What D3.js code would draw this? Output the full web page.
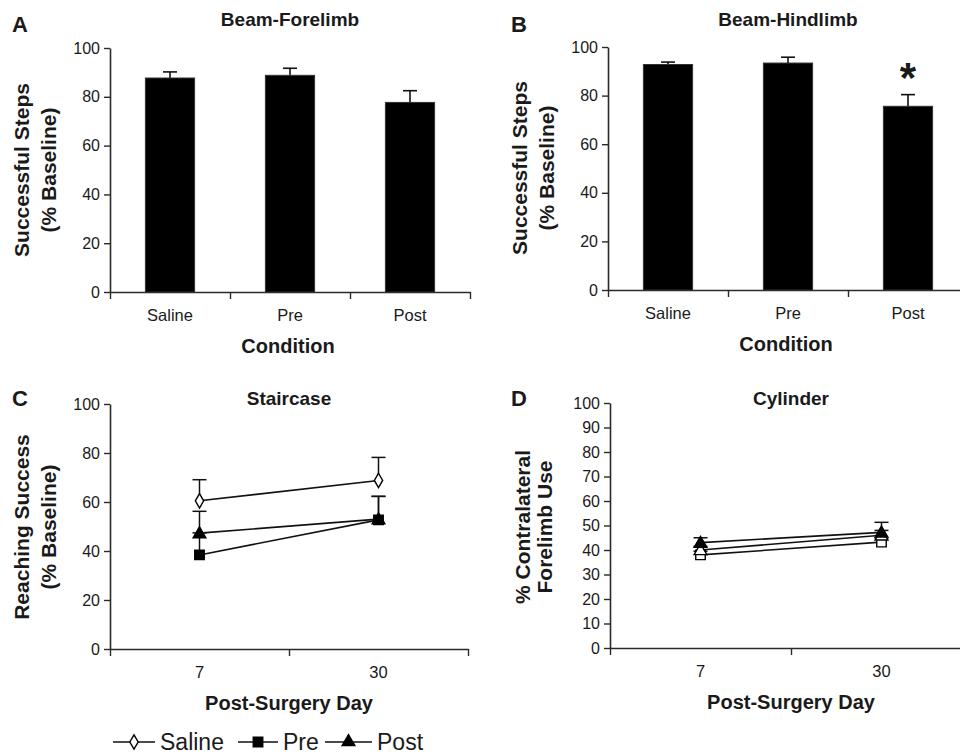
<!DOCTYPE html>
<html>
<head>
<meta charset="utf-8">
<script src="https://cdn.jsdelivr.net/npm/d3@7"></script>
<style>
  body { margin: 0; background: #fff; }
  svg { font-family: Arial, "Liberation Sans", sans-serif; }
  text { fill: #1a1a1a; }
</style>
</head>
<body>
<svg id="chart" width="960" height="756"></svg>
<script>
// ---- data ----
const conditions = ["Saline", "Pre", "Post"];
const forelimbMean = [87.7, 88.8, 77.7];
const forelimbErr = [2.5, 2.9, 4.8];
const hindlimbMean = [92.8, 93.4, 75.6];
const hindlimbErr = [1.0, 2.4, 4.8];

const days = ["7", "30"];
const groups = ["Saline", "Pre", "Post"];
const stairSaline = [60.5, 68.8];
const stairSalineErr = [8.6, 9.4];
const stairPre = [38.4, 52.7];
const stairPreErr = [9.0, 9.6];
const stairPost = [47.3, 53.0];
const stairPostErr = [8.9, 9.3];

const cylSquare = [38.0, 43.2];
const cylSquareErr = [1.5, 1.5];
const cylOpenTri = [40.0, 46.0];
const cylOpenTriErr = [1.5, 2.0];
const cylFilledTri = [43.0, 47.2];
const cylFilledTriErr = [2.0, 4.1];

const barTicks = [0, 20, 40, 60, 80, 100];
const cylTicks = d3.range(0, 101, 10);

const svg = d3.select("#chart");
const axisColor = "#2a2a2a";

function styleAxis(g) {
  g.selectAll("path.domain").attr("stroke", axisColor).attr("stroke-width", 1.6);
  g.selectAll(".tick line").attr("stroke", axisColor).attr("stroke-width", 1.4);
  g.selectAll(".tick text").attr("font-size", 16).attr("fill", "#1a1a1a")
    .attr("font-family", "Arial, 'Liberation Sans', sans-serif");
}

function yLabel(x1, x2, cy, l1, l2) {
  svg.append("text").attr("transform", `translate(${x1},${cy}) rotate(-90)`)
    .attr("text-anchor", "middle").attr("dy", "0.35em")
    .attr("font-size", 21).attr("font-weight", "bold").text(l1);
  svg.append("text").attr("transform", `translate(${x2},${cy}) rotate(-90)`)
    .attr("text-anchor", "middle").attr("dy", "0.35em")
    .attr("font-size", 21).attr("font-weight", "bold").text(l2);
}

function label(x, y, txt, size, bold, anchor) {
  return svg.append("text").attr("x", x).attr("y", y)
    .attr("text-anchor", anchor || "middle")
    .attr("font-size", size).attr("font-weight", bold ? "bold" : "normal").text(txt);
}

// ---- bar panels ----
function barPanel(o) {
  const y = d3.scaleLinear().domain([0, 100]).range([o.y0, o.y100]);
  const x = d3.scaleBand().domain(conditions).range([o.x0, o.x0 + 360]).padding(0);
  const xi = d3.scaleLinear().domain([0, 3]).range([o.x0, o.x0 + 360]);

  const gy = svg.append("g").attr("transform", `translate(${o.x0},0)`)
    .call(d3.axisLeft(y).tickValues(barTicks).tickSize(6).tickPadding(4).tickSizeOuter(0));
  styleAxis(gy);
  const gx = svg.append("g").attr("transform", `translate(0,${o.y0})`)
    .call(d3.axisBottom(xi).tickValues([0, 1, 2, 3]).tickSize(7).tickFormat("").tickSizeOuter(0));
  styleAxis(gx);

  const bw = x.bandwidth() * 0.41;
  // error bars (upper only)
  conditions.forEach((c, i) => {
    const cx = x(c) + x.bandwidth() / 2;
    svg.append("line").attr("x1", cx).attr("x2", cx)
      .attr("y1", y(o.mean[i])).attr("y2", y(o.mean[i] + o.err[i]))
      .attr("stroke", "#111").attr("stroke-width", 1.6);
    svg.append("line").attr("x1", cx - 7).attr("x2", cx + 7)
      .attr("y1", y(o.mean[i] + o.err[i])).attr("y2", y(o.mean[i] + o.err[i]))
      .attr("stroke", "#111").attr("stroke-width", 1.6);
  });
  svg.selectAll(null).data(conditions).enter().append("rect")
    .attr("x", d => x(d) + (x.bandwidth() - bw) / 2)
    .attr("y", (d, i) => y(o.mean[i]))
    .attr("width", bw)
    .attr("height", (d, i) => y(0) - y(o.mean[i]))
    .attr("fill", "#000").attr("stroke", "#333").attr("stroke-width", 1);

  svg.selectAll(null).data(conditions).enter().append("text")
    .attr("x", d => x(d) + x.bandwidth() / 2).attr("y", o.y0 + 29)
    .attr("text-anchor", "middle").attr("font-size", 16.5).text(d => d);

  label(o.x0 + 178, o.y0 + 61, "Condition", 20, true);
  label(o.x0 + 180, 26, o.title, 19, true);
  label(o.letterX, 32, o.letter, 22, true, "start");
  yLabel(o.x0 - 88, o.x0 - 61, o.y0 - 122, "Successful Steps", "(% Baseline)");
  return { x, y };
}

barPanel({ x0: 110, y0: 292, y100: 48, mean: forelimbMean, err: forelimbErr,
  title: "Beam-Forelimb", letter: "A", letterX: 12 });
const pb = barPanel({ x0: 608, y0: 290, y100: 47, mean: hindlimbMean, err: hindlimbErr,
  title: "Beam-Hindlimb", letter: "B", letterX: 511 });
// significance star over Post bar in B
label(pb.x("Post") + pb.x.bandwidth() / 2, pb.y(hindlimbMean[2] + hindlimbErr[2]) - 3, "*", 42, true);

// ---- marker shapes ----
const sym = {
  diamond: d3.symbol().type(d3.symbolDiamond).size(60),
  square: d3.symbol().type(d3.symbolSquare).size(90),
  triangle: d3.symbol().type(d3.symbolTriangle).size(70)
};

function linePanel(o) {
  const y = d3.scaleLinear().domain([0, 100]).range([o.y0, o.y100]);
  const x = d3.scaleBand().domain(days).range([o.x0, o.x0 + 2 * o.step]).padding(0);
  const xi = d3.scaleLinear().domain([0, 2]).range([o.x0, o.x0 + 2 * o.step]);

  const gy = svg.append("g").attr("transform", `translate(${o.x0},0)`)
    .call(d3.axisLeft(y).tickValues(o.ticks).tickSize(6).tickPadding(4).tickSizeOuter(0));
  styleAxis(gy);
  const gx = svg.append("g").attr("transform", `translate(0,${o.y0})`)
    .call(d3.axisBottom(xi).tickValues([0, 1, 2]).tickSize(7).tickFormat("").tickSizeOuter(0));
  styleAxis(gx);

  const cx = d => x(d) + x.bandwidth() / 2;
  const line = d3.line().x((v, i) => cx(days[i])).y(v => y(v));

  o.series.forEach(s => {
    // upper error bars
    s.mean.forEach((v, i) => {
      if (!s.err[i]) return;
      const top = y(v + s.err[i]);
      svg.append("line").attr("x1", cx(days[i])).attr("x2", cx(days[i]))
        .attr("y1", y(v)).attr("y2", top).attr("stroke", "#111").attr("stroke-width", 1.5);
      svg.append("line").attr("x1", cx(days[i]) - 7).attr("x2", cx(days[i]) + 7)
        .attr("y1", top).attr("y2", top).attr("stroke", "#111").attr("stroke-width", 1.5);
    });
  });
  o.series.forEach(s => {
    svg.append("path").datum(s.mean).attr("d", line)
      .attr("fill", "none").attr("stroke", "#111").attr("stroke-width", 1.6);
  });
  o.series.forEach(s => {
    svg.selectAll(null).data(s.mean).enter().append("path")
      .attr("d", sym[s.shape])
      .attr("transform", (v, i) => `translate(${cx(days[i])},${y(v) + (s.shape === "triangle" ? 1 : 0)})`)
      .attr("fill", s.filled ? "#000" : "#fff")
      .attr("stroke", "#000").attr("stroke-width", 1.4);
  });

  svg.selectAll(null).data(days).enter().append("text")
    .attr("x", d => cx(d)).attr("y", o.y0 + 29)
    .attr("text-anchor", "middle").attr("font-size", 16.5).text(d => d);
  label(o.x0 + o.step, o.y0 + 61, "Post-Surgery Day", 20, true);
  label(o.x0 + o.step, 405, o.title, 19, true);
  label(o.letterX, 406, o.letter, 22, true, "start");
  yLabel(o.yl1, o.yl2, 527, o.lab1, o.lab2);
}

linePanel({ x0: 110, y0: 649, y100: 404, step: 179, ticks: barTicks,
  title: "Staircase", letter: "C", letterX: 12, yl1: 22, yl2: 49,
  lab1: "Reaching Success", lab2: "(% Baseline)",
  series: [
    { mean: stairSaline, err: stairSalineErr, shape: "diamond", filled: false },
    { mean: stairPre, err: stairPreErr, shape: "square", filled: true },
    { mean: stairPost, err: stairPostErr, shape: "triangle", filled: true }
  ] });

linePanel({ x0: 610, y0: 648, y100: 403, step: 181, ticks: cylTicks,
  title: "Cylinder", letter: "D", letterX: 511, yl1: 523, yl2: 545,
  lab1: "% Contralateral", lab2: "Forelimb Use",
  series: [
    { mean: cylSquare, err: cylSquareErr, shape: "square", filled: false },
    { mean: cylOpenTri, err: cylOpenTriErr, shape: "triangle", filled: false },
    { mean: cylFilledTri, err: cylFilledTriErr, shape: "triangle", filled: true }
  ] });

// ---- legend (Staircase groups) ----
const legendShapes = [["diamond", false], ["square", true], ["triangle", true]];
const legLine = [[113, 155], [238, 278], [325, 372]];
const legText = [160, 283, 377];
const legY = 742;
groups.forEach((g, i) => {
  const [a, b] = legLine[i];
  svg.append("line").attr("x1", a).attr("x2", b).attr("y1", legY).attr("y2", legY)
    .attr("stroke", "#111").attr("stroke-width", 1.6);
  svg.append("path").attr("d", sym[legendShapes[i][0]])
    .attr("transform", `translate(${(a + b) / 2},${legY})`)
    .attr("fill", legendShapes[i][1] ? "#000" : "#fff")
    .attr("stroke", "#000").attr("stroke-width", 1.4);
  label(legText[i], 750, g, 23, false, "start");
});
</script>
</body>
</html>
